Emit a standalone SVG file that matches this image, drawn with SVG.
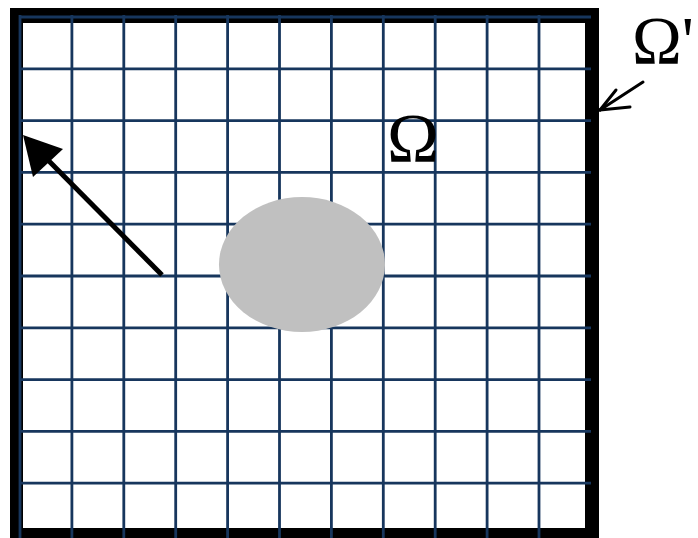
<svg xmlns="http://www.w3.org/2000/svg" width="698" height="538" viewBox="0 0 698 538">
<style>
.grid line{stroke:#17365d;stroke-width:2.8}
.lbl{font-family:"Liberation Serif","Times New Roman",serif;fill:#000}
</style>
<rect x="0" y="0" width="698" height="538" fill="#fff"/>
<g id="domain">
<rect x="10" y="8" width="589" height="540" fill="#000"/>
<rect x="23" y="23" width="562" height="505" fill="#fff"/>
</g>
<g id="grid" class="grid">
<line x1="20" y1="15" x2="20" y2="538"/>
<line x1="71.9" y1="15" x2="71.9" y2="538"/>
<line x1="123.8" y1="15" x2="123.8" y2="538"/>
<line x1="175.7" y1="15" x2="175.7" y2="538"/>
<line x1="227.6" y1="15" x2="227.6" y2="538"/>
<line x1="279.5" y1="15" x2="279.5" y2="538"/>
<line x1="331.4" y1="15" x2="331.4" y2="538"/>
<line x1="383.3" y1="15" x2="383.3" y2="538"/>
<line x1="435.2" y1="15" x2="435.2" y2="538"/>
<line x1="487.1" y1="15" x2="487.1" y2="538"/>
<line x1="539" y1="15" x2="539" y2="538"/>
<line x1="20" y1="17" x2="591" y2="17"/>
<line x1="20" y1="68.8" x2="591" y2="68.8"/>
<line x1="20" y1="120.6" x2="591" y2="120.6"/>
<line x1="20" y1="172.4" x2="591" y2="172.4"/>
<line x1="20" y1="224.2" x2="591" y2="224.2"/>
<line x1="20" y1="276" x2="591" y2="276"/>
<line x1="20" y1="327.8" x2="591" y2="327.8"/>
<line x1="20" y1="379.6" x2="591" y2="379.6"/>
<line x1="20" y1="431.4" x2="591" y2="431.4"/>
<line x1="20" y1="483.2" x2="591" y2="483.2"/>
</g>
<g id="obstacle">
<ellipse cx="302" cy="264.5" rx="83" ry="67.5" fill="#c0c0c0"/>
</g>
<g id="connectors">
<line x1="162" y1="275" x2="40" y2="152" stroke="#000" stroke-width="5"/>
<path d="M23,135 L63,149 L33,177 Z" fill="#000"/>
<g fill="none" stroke="#000" stroke-width="3" stroke-linecap="round">
<line x1="643" y1="82" x2="600" y2="110"/>
<line x1="616" y1="90" x2="600" y2="110"/>
<line x1="630" y1="107" x2="600" y2="110"/>
</g>
</g>
<g id="labels">
<text class="lbl" x="387" y="162" font-size="70">Ω</text>
<text class="lbl" x="632" y="63" font-size="67">Ω'</text>
</g>
</svg>
